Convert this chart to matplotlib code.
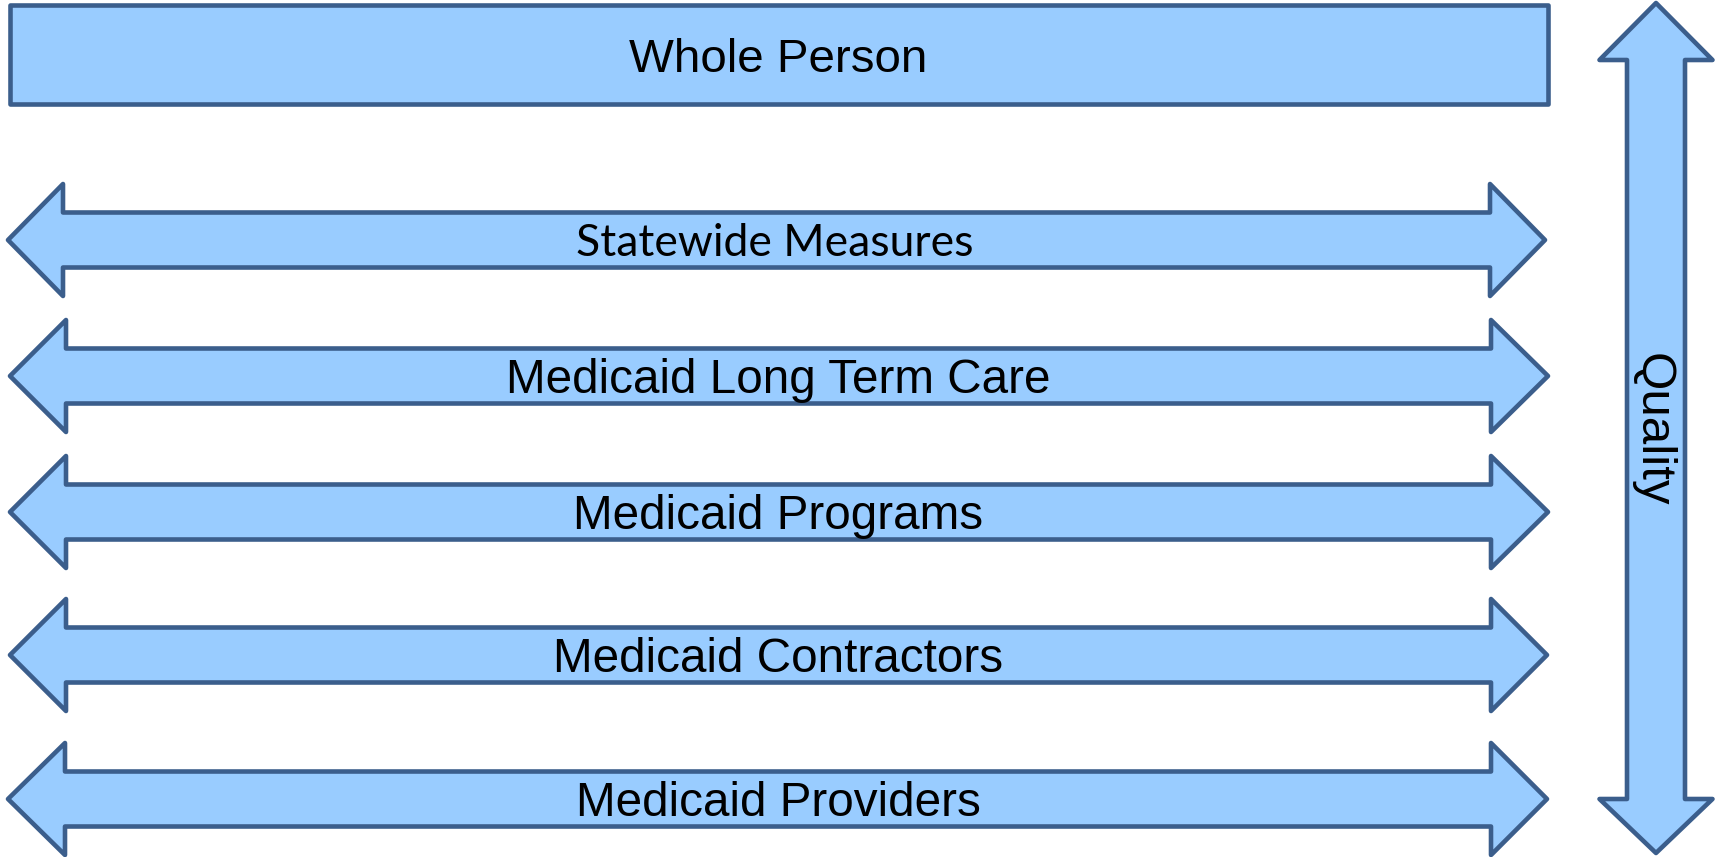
import matplotlib
matplotlib.use('Agg')
from matplotlib import pyplot as plt
from matplotlib.patches import Polygon, Rectangle

# layout of the diagram in pixel units (y grows downwards)
labels = ['Statewide Measures', 'Medicaid Long Term Care', 'Medicaid Programs',
          'Medicaid Contractors', 'Medicaid Providers']
centers = [240, 376, 512, 655, 799]
left_tips = [8, 10, 10, 10, 8]
left_bases = [63, 66, 66, 66, 65]
right_bases = [1490, 1491, 1491, 1491, 1491]
right_tips = [1545, 1548, 1548, 1547, 1547]
head_half = 56
shaft_half = 27.5

top_label = 'Whole Person'
top_box = (10, 5, 1548, 104)  # x0, y0, x1, y1

side_label = 'Quality'
side_x = 1656
side_tips = (3, 853)
side_bases = (60, 799)
side_head_half = 56.5
side_shaft_half = 29

fill = '#99ccff'
edge = '#3b5e8c'
lw = 3.3

fig = plt.figure(figsize=(17.23, 8.57), dpi=100)
ax = fig.add_axes([0, 0, 1, 1])
ax.set_xlim(0, 1723)
ax.set_ylim(857, 0)
ax.axis('off')


def double_arrow(a_tip, a_base, b_base, b_tip, c, hh, sh, vertical=False):
    pts = [(a_tip, c), (a_base, c - hh), (a_base, c - sh), (b_base, c - sh),
           (b_base, c - hh), (b_tip, c), (b_base, c + hh), (b_base, c + sh),
           (a_base, c + sh), (a_base, c + hh)]
    if vertical:
        pts = [(y, x) for x, y in pts]
    return Polygon(pts, closed=True, facecolor=fill, edgecolor=edge,
                   linewidth=lw, joinstyle='round')


x0, y0, x1, y1 = top_box
ax.add_patch(Rectangle((x0, y0), x1 - x0, y1 - y0, facecolor=fill,
                       edgecolor=edge, linewidth=lw, joinstyle='round'))
ax.text(778, (y0 + y1) / 2 + 17, top_label, ha='center', va='baseline',
        fontsize=34.2, family='Liberation Sans')

for i in range(len(labels)):
    ax.add_patch(double_arrow(left_tips[i], left_bases[i], right_bases[i],
                              right_tips[i], centers[i], head_half, shaft_half))
    if i == 0:
        ax.text(775, centers[i] + 16, labels[i], ha='center', va='baseline',
                fontsize=32, family='Lato')
    else:
        ax.text(778, centers[i] + 17, labels[i], ha='center', va='baseline',
                fontsize=34.3, family='Liberation Sans')

ax.add_patch(double_arrow(side_tips[0], side_bases[0], side_bases[1], side_tips[1],
                          side_x, side_head_half, side_shaft_half, vertical=True))
ax.text(side_x - 4, 430, side_label, ha='center', va='center', rotation=-90,
        fontsize=35.5, family='Liberation Sans')

plt.savefig('out.png', dpi=100)
plt.close('all')
